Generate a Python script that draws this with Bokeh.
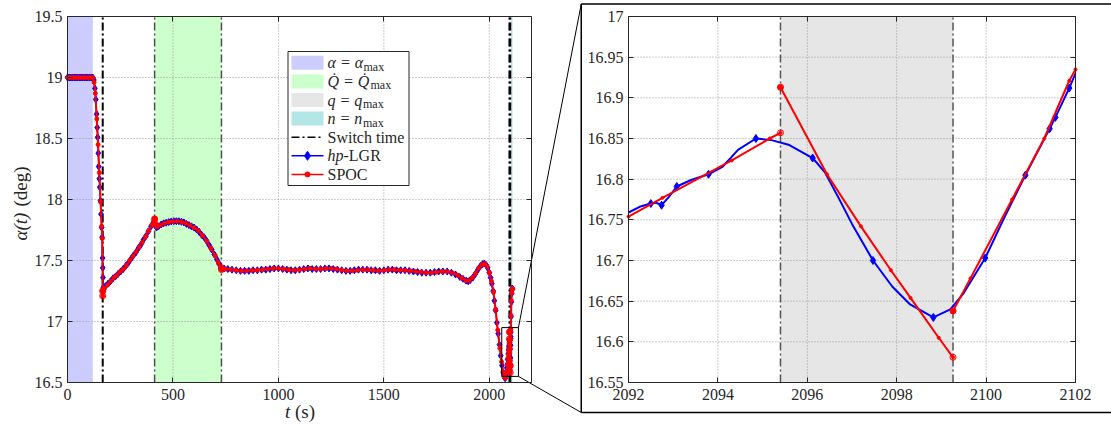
from bokeh.plotting import figure
from bokeh.models import (LinearAxis, Range1d, FixedTicker, CustomJSTickFormatter, Label)
from bokeh.embed import file_html
from bokeh.resources import INLINE

FONT = "Liberation Serif"
AX = "#262626"
GRID = "#9a9a9a"
DASHDOT = "8 3 2 3"

# ---------------- data ----------------
t_lim = [0, 2200]
alpha_lim = [16.5, 19.5]
main_x_ticks = [0, 500, 1000, 1500, 2000]
main_y_ticks = [16.5, 17, 17.5, 18, 18.5, 19, 19.5]
zoom_t_lim = [2092, 2102]
zoom_alpha_lim = [16.55, 17.0]
zoom_x_ticks = [2092, 2094, 2096, 2098, 2100, 2102]
zoom_y_ticks = [16.55, 16.6, 16.65, 16.7, 16.75, 16.8, 16.85, 16.9, 16.95, 17.0]
zoom_box_t = [2059, 2138]
zoom_box_alpha = [16.55, 16.95]

switch_times = [167, 413, 730, 2095.4, 2099.26]
region_alpha_max = [0, 120]
region_qdot_max = [413, 730]
region_q_max = [2095.4, 2099.26]
region_n_max = [2103.5, 2110]

# hp-LGR collocation nodes (markers)
lgr_t = [
    0, 8, 16, 24, 32, 40, 48, 56, 64, 72, 80, 88, 96, 104, 112, 120,
    125, 130, 134, 138, 141, 143, 146, 148, 151, 153, 156, 159, 162, 164, 166, 167, 168, 170,
    180, 192, 204, 216, 228, 240, 252, 264, 276, 288, 300, 312, 324, 336, 348, 360, 372, 384, 396, 404, 410, 413,
    417, 422, 432, 444, 456, 468, 480, 492, 504, 516, 528, 540, 552, 564, 576, 588, 600, 612, 624, 636, 648, 660,
    672, 684, 696, 708, 718, 726, 730,
    742, 760, 780, 800, 820, 840, 860, 880, 900, 920, 940, 960, 980, 1000, 1020, 1040, 1060, 1080, 1100, 1120,
    1140, 1160, 1180, 1200, 1220, 1240, 1260, 1280, 1300, 1320, 1340, 1360, 1380, 1400, 1420, 1440, 1460, 1480,
    1500, 1520, 1540, 1560, 1580, 1600, 1620, 1640, 1660, 1680, 1700, 1720, 1740, 1760, 1780, 1800, 1820,
    1840, 1860, 1875, 1890, 1900, 1910, 1922, 1934, 1946, 1958, 1968, 1976, 1984, 1992, 2000, 2006, 2012, 2018,
    2024, 2030, 2036, 2042, 2048, 2054, 2060, 2066, 2071, 2075, 2079, 2083, 2087, 2090,
    2092.5, 2092.74, 2093.08, 2093.79, 2094.85, 2096.12, 2097.47, 2098.82, 2099.98, 2100.88, 2101.42, 2101.55, 2101.86,
    2103, 2104.5, 2106, 2107.5, 2109, 2110,
]
lgr_alpha = [
    19.0, 19.0, 19.0, 19.0, 19.0, 19.0, 19.0, 19.0, 19.0, 19.0, 19.0, 19.0, 19.0, 19.0, 19.0, 19.0,
    18.98, 18.91, 18.82, 18.70, 18.59, 18.51, 18.38, 18.27, 18.17, 18.10, 17.99, 17.88, 17.77, 17.69, 17.52, 17.44, 17.36, 17.28,
    17.29, 17.31, 17.33, 17.355, 17.37, 17.39, 17.41, 17.43, 17.455, 17.48, 17.51, 17.54, 17.565, 17.60, 17.63, 17.67, 17.70, 17.74, 17.78, 17.80, 17.82, 17.84,
    17.79, 17.77, 17.78, 17.795, 17.805, 17.81, 17.815, 17.82, 17.822, 17.822, 17.822, 17.818, 17.812, 17.80, 17.79, 17.78, 17.77, 17.755, 17.735, 17.71, 17.69, 17.66,
    17.625, 17.59, 17.55, 17.51, 17.475, 17.45, 17.435,
    17.435, 17.43, 17.425, 17.42, 17.415, 17.415, 17.415, 17.42, 17.42, 17.425, 17.425, 17.43, 17.435, 17.435, 17.43, 17.425, 17.42, 17.42, 17.425, 17.43,
    17.435, 17.43, 17.43, 17.43, 17.435, 17.435, 17.43, 17.425, 17.42, 17.415, 17.415, 17.42, 17.425, 17.425, 17.425, 17.42, 17.42, 17.415,
    17.42, 17.425, 17.425, 17.42, 17.42, 17.42, 17.415, 17.41, 17.405, 17.40, 17.40, 17.40, 17.405, 17.41, 17.41, 17.41, 17.40,
    17.385, 17.365, 17.35, 17.335, 17.33, 17.34, 17.36, 17.39, 17.425, 17.455, 17.47, 17.475, 17.465, 17.44, 17.40, 17.36, 17.31, 17.25,
    17.17, 17.09, 16.99, 16.90, 16.81, 16.72, 16.64, 16.58, 16.545, 16.535, 16.56, 16.62, 16.69, 16.735,
    16.770, 16.768, 16.791, 16.806, 16.850, 16.826, 16.700, 16.630, 16.703, 16.805, 16.862, 16.876, 16.912,
    17.04, 17.16, 17.23, 17.265, 17.27, 17.265,
]
# extra points of the smooth hp-LGR interpolant inside the zoom window (line only)
lgr_fine_t = [2092.0, 2092.25, 2092.62, 2092.9, 2093.4, 2094.1, 2094.45, 2095.2, 2095.6, 2096.4, 2096.7,
              2097.0, 2097.9, 2098.3, 2099.2, 2099.5, 2100.4, 2102.0]
lgr_fine_alpha = [16.759, 16.766, 16.771, 16.778, 16.799, 16.815, 16.836, 16.848, 16.842, 16.808, 16.777,
                  16.745, 16.668, 16.646, 16.640, 16.660, 16.752, 16.930]

# SPOC phases (separated at the switch times)
spoc1_t = [0, 12, 24, 36, 48, 60, 72, 84, 96, 108, 120, 126, 132, 139, 145, 151, 157, 162, 165, 167]
spoc1_alpha = [19.0, 19.0, 19.0, 19.0, 19.0, 19.0, 19.0, 19.0, 19.0, 19.0, 19.0, 18.96, 18.87, 18.66, 18.45,
               18.22, 17.98, 17.78, 17.68, 17.21]
spoc2_t = [167, 175, 190, 205, 220, 235, 250, 265, 280, 295, 310, 325, 340, 355, 370, 385, 400, 413]
spoc2_alpha = [17.25, 17.27, 17.30, 17.33, 17.36, 17.38, 17.41, 17.43, 17.46, 17.50, 17.535, 17.57, 17.61,
               17.65, 17.695, 17.745, 17.79, 17.81]
spoc3_t = [413, 418, 424, 440, 460, 480, 500, 520, 540, 560, 580, 600, 620, 640, 660, 680, 700, 715, 730]
spoc3_alpha = [17.84, 17.79, 17.775, 17.79, 17.805, 17.815, 17.82, 17.822, 17.818, 17.805, 17.79, 17.77,
               17.745, 17.705, 17.66, 17.60, 17.54, 17.48, 17.425]
spoc4_t = [730, 750, 775, 800, 825, 850, 875, 900, 925, 950, 975, 1000, 1025, 1050, 1075, 1100, 1125, 1150,
           1175, 1200, 1225, 1250, 1275, 1300, 1325, 1350, 1375, 1400, 1425, 1450, 1475, 1500, 1525, 1550,
           1575, 1600, 1625, 1650, 1675, 1700, 1725, 1750, 1775, 1800, 1825, 1850, 1870, 1890, 1905, 1920,
           1935, 1950, 1965, 1978, 1990, 2000, 2010, 2020, 2030, 2040, 2050, 2058, 2065, 2071, 2076, 2081,
           2085, 2088.5, 2091.2, 2092.0, 2092.76, 2094.31, 2095.16, 2095.4]
spoc4_alpha = [17.44, 17.43, 17.425, 17.42, 17.415, 17.415, 17.42, 17.42, 17.425, 17.43, 17.435, 17.435,
               17.43, 17.425, 17.42, 17.425, 17.43, 17.435, 17.43, 17.43, 17.435, 17.435, 17.43, 17.42,
               17.415, 17.415, 17.42, 17.425, 17.425, 17.42, 17.415, 17.42, 17.425, 17.425, 17.42, 17.42,
               17.415, 17.41, 17.405, 17.40, 17.40, 17.405, 17.41, 17.41, 17.40, 17.38, 17.355, 17.335,
               17.335, 17.36, 17.395, 17.44, 17.465, 17.475, 17.45, 17.40, 17.33, 17.24, 17.10, 16.93,
               16.78, 16.67, 16.59, 16.545, 16.535, 16.58, 16.65, 16.70, 16.73, 16.754, 16.777, 16.823, 16.850, 16.857]
spoc5_t = [2095.4, 2096.44, 2097.2, 2097.87, 2098.31, 2098.94, 2099.26]
spoc5_alpha = [16.913, 16.806, 16.742, 16.688, 16.654, 16.605, 16.581]
spoc6_t = [2099.26, 2099.65, 2100.58, 2101.3, 2101.86, 2102.0, 2103, 2104.5, 2106, 2107.5, 2109, 2110]
spoc6_alpha = [16.638, 16.678, 16.775, 16.85, 16.921, 16.935, 17.05, 17.17, 17.235, 17.265, 17.27, 17.268]

legend_labels = ["α = α", "Q̇ = Q̇", "q = q", "n = n", "Switch time", "hp", "SPOC"]
legend_subs = ["max", "max", "max", "max", "", "", ""]

assert len(lgr_t) == len(lgr_alpha)
assert len(lgr_fine_t) == len(lgr_fine_alpha)
spoc_t = [spoc1_t, spoc2_t, spoc3_t, spoc4_t, spoc5_t, spoc6_t]
spoc_alpha = [spoc1_alpha, spoc2_alpha, spoc3_alpha, spoc4_alpha, spoc5_alpha, spoc6_alpha]
for a, b in zip(spoc_t, spoc_alpha):
    assert len(a) == len(b)

lgr_line = sorted(zip(lgr_t + lgr_fine_t, lgr_alpha + lgr_fine_alpha))
lgr_line_t = [v[0] for v in lgr_line]
lgr_line_alpha = [v[1] for v in lgr_line]
spoc_all_t = [v for s in spoc_t for v in s]
spoc_all_alpha = [v for s in spoc_alpha for v in s]
spoc_end_t = [s[-1] for s in spoc_t[:-1]]
spoc_end_alpha = [s[-1] for s in spoc_alpha[:-1]]
spoc_start_t = [s[0] for s in spoc_t[1:]]
spoc_start_alpha = [s[0] for s in spoc_alpha[1:]]


def in_window(ts, als):
    pts = [(t, a) for t, a in zip(ts, als) if zoom_t_lim[0] <= t <= zoom_t_lim[1]]
    return [q[0] for q in pts], [q[1] for q in pts]


# ---------------- layout (canvas pixels, origin top-left) ----------------
W, H = 1111, 427
L_BOX = (67, 531, 16, 382)      # left, right, top, bottom of the main axes
R_BOX = (628, 1075, 16, 382)    # same for the magnified axes
MAG_FRAME = (580.75, 3.5, 412)  # left, top, bottom of the magnifier frame
LEG_BOX = (287.5, 408.5, 51, 185)
LEG_ROW0, LEG_PITCH = 62.3, 18.6
LEG_GLYPH = (291, 323)
LEG_TEXT_X = 327
LEG_SUB_X = [363, 370, 362.5, 362.5]
LEG_HP_SUFFIX_X = 343


def calib(xlim, ylim, box):
    l, r, top, bot = box
    kx = (xlim[1] - xlim[0]) / (r - l)
    ky = (ylim[1] - ylim[0]) / (bot - top)
    xr = (xlim[0] - l * kx, xlim[1] + (W - r) * kx)
    yr = (ylim[0] - (H - bot) * ky, ylim[1] + top * ky)
    fx = lambda px: xr[0] + px * kx
    fy = lambda py: yr[1] - py * ky
    return xr, yr, fx, fy


lxr, lyr, lpx, lpy = calib(t_lim, alpha_lim, L_BOX)
rxr, ryr, rpx, rpy = calib(zoom_t_lim, zoom_alpha_lim, R_BOX)

p = figure(width=W, height=H, x_range=Range1d(*lxr), y_range=Range1d(*lyr),
           x_axis_location=None, y_axis_location=None,
           output_backend="svg", toolbar_location=None, min_border=0)
p.outline_line_color = None
p.background_fill_color = "white"
p.border_fill_color = "white"
p.extra_x_ranges = {"zt": Range1d(*rxr)}
p.extra_y_ranges = {"za": Range1d(*ryr)}
p.xgrid.visible = False
p.ygrid.visible = False

Z = dict(x_range_name="zt", y_range_name="za")
D = dict(x_range_name="default", y_range_name="default")


def panel_axes(rn, xt, yt, xlim, ylim):
    fmt = CustomJSTickFormatter(code="return Number(tick.toFixed(4)).toString();")
    base = dict(major_tick_in=5, major_tick_out=0, minor_tick_line_color=None, axis_line_color=AX,
                axis_line_width=1, major_tick_line_color=AX, major_label_text_font=FONT,
                major_label_text_font_size="16px", **rn)
    specs = [
        ("below", xt, xlim, ylim[0], True, 6),
        ("left", yt, ylim, xlim[0], True, 5),
        ("above", xt, xlim, ylim[1], False, 0),
        ("right", yt, ylim, xlim[1], False, 0),
    ]
    for side, ticks, bounds, loc, show, standoff in specs:
        ax = LinearAxis(ticker=FixedTicker(ticks=ticks), bounds=tuple(bounds), fixed_location=loc,
                        formatter=fmt, major_label_standoff=standoff,
                        major_label_text_color=AX if show else None, **base)
        p.add_layout(ax, side)


def grid(rn, xt, yt, xlim, ylim):
    gx = [v for v in xt if xlim[0] < v < xlim[1]]
    gy = [v for v in yt if ylim[0] < v < ylim[1]]
    p.segment(x0=gx, y0=ylim[0], x1=gx, y1=ylim[1], line_color=GRID, line_dash="1 2", line_width=1, **rn)
    p.segment(x0=xlim[0], y0=gy, x1=xlim[1], y1=gy, line_color=GRID, line_dash="1 2", line_width=1, **rn)


def shade(region, color, ylim, rn):
    return p.quad(left=[region[0]], right=[region[1]], bottom=[ylim[0]], top=[ylim[1]],
                  fill_color=color, line_color=None, **rn)


def text(x, y, s, size="16px", style="normal", align="left", angle=0, rn=D, **kw):
    p.add_layout(Label(x=x, y=y, text=s, text_font=FONT, text_font_size=size, text_font_style=style,
                       text_align=align, text_baseline="middle", text_color=AX, angle=angle,
                       angle_units="deg", **rn, **kw))


shade_colors = ["#ccccff", "#ccffcc", "#e6e6e6", "#b3e6e6"]

# ---- main panel ----
regions = [region_alpha_max, region_qdot_max, region_q_max, region_n_max]
for reg, col in zip(regions, shade_colors):
    shade(reg, col, alpha_lim, D)
grid(D, main_x_ticks, main_y_ticks, t_lim, alpha_lim)

sw_black = [t for t in switch_times if t not in region_qdot_max]
sw_gray = [t for t in switch_times if t in region_qdot_max]
p.segment(x0=sw_black, y0=alpha_lim[0], x1=sw_black, y1=alpha_lim[1],
          line_color="black", line_width=2, line_dash=DASHDOT)
p.segment(x0=sw_gray, y0=alpha_lim[0], x1=sw_gray, y1=alpha_lim[1],
          line_color="#4d4d4d", line_width=1.5, line_dash=DASHDOT)

p.line(lgr_line_t, lgr_line_alpha, line_color="#0000ff", line_width=1.5)
p.scatter(lgr_t, lgr_alpha, marker="diamond", size=7, fill_color="#0000ff", line_color="#0000ff")
p.multi_line(xs=spoc_t, ys=spoc_alpha, line_color="#ff0000", line_width=2)
p.scatter(spoc_all_t, spoc_all_alpha, marker="circle", size=4, fill_color="#ff0000", line_color="#ff0000")
p.scatter(spoc_end_t, spoc_end_alpha, marker="circle", size=6, fill_color=None, line_color="#ff0000", line_width=1)
p.scatter(spoc_start_t, spoc_start_alpha, marker="circle", size=6, fill_color="#ff0000", line_color="#ff0000")

p.quad(left=[zoom_box_t[0]], right=[zoom_box_t[1]], bottom=[zoom_box_alpha[0]], top=[zoom_box_alpha[1]],
       fill_color=None, line_color="black", line_width=1)

# ---- legend (drawn in the main panel, pixel-placed) ----
lb_l, lb_r, lb_t, lb_b = LEG_BOX
p.quad(left=[lpx(lb_l)], right=[lpx(lb_r)], top=[lpy(lb_t)], bottom=[lpy(lb_b)],
       fill_color="white", line_color=AX, line_width=1)
rows = [LEG_ROW0 + i * LEG_PITCH for i in range(len(legend_labels))]
g0, g1 = lpx(LEG_GLYPH[0]), lpx(LEG_GLYPH[1])
gmid = lpx((LEG_GLYPH[0] + LEG_GLYPH[1]) / 2)
for i, col in enumerate(shade_colors):
    p.quad(left=[g0], right=[g1], top=[lpy(rows[i] - 7)], bottom=[lpy(rows[i] + 7)],
           fill_color=col, line_color=None)
p.segment(x0=[g0], y0=[lpy(rows[4])], x1=[g1], y1=[lpy(rows[4])], line_color="black", line_width=1.5,
          line_dash=DASHDOT)
p.segment(x0=[g0], y0=[lpy(rows[5])], x1=[g1], y1=[lpy(rows[5])], line_color="#0000ff", line_width=1.5)
p.scatter([gmid], [lpy(rows[5])], marker="diamond", size=9, fill_color="#0000ff", line_color="#0000ff")
p.segment(x0=[g0], y0=[lpy(rows[6])], x1=[g1], y1=[lpy(rows[6])], line_color="#ff0000", line_width=1.5)
p.scatter([gmid], [lpy(rows[6])], marker="circle", size=5, fill_color="#ff0000", line_color="#ff0000")
for i, (lab, sub) in enumerate(zip(legend_labels, legend_subs)):
    text(lpx(LEG_TEXT_X), lpy(rows[i]), lab, style="italic" if i in (0, 1, 2, 3, 5) else "normal")
    if sub:
        text(lpx(LEG_SUB_X[i]), lpy(rows[i] + 4), sub, size="12px")
text(lpx(LEG_HP_SUFFIX_X), lpy(rows[5]), "-LGR")

panel_axes(D, main_x_ticks, main_y_ticks, t_lim, alpha_lim)

# ---- magnified panel ----
shade(region_q_max, "#e6e6e6", zoom_alpha_lim, Z)
grid(Z, zoom_x_ticks, zoom_y_ticks, zoom_t_lim, zoom_alpha_lim)
sw_zoom = [t for t in switch_times if zoom_t_lim[0] <= t <= zoom_t_lim[1]]
p.segment(x0=sw_zoom, y0=zoom_alpha_lim[0], x1=sw_zoom, y1=zoom_alpha_lim[1],
          line_color="#555555", line_width=1.5, line_dash=DASHDOT, **Z)
zl_t, zl_a = in_window(lgr_line_t, lgr_line_alpha)
p.line(zl_t, zl_a, line_color="#0000ff", line_width=2, **Z)
zn_t, zn_a = in_window(lgr_t, lgr_alpha)
p.scatter(zn_t, zn_a, marker="diamond", size=8, fill_color="#0000ff", line_color="#0000ff", **Z)
zs = [in_window(a, b) for a, b in zip(spoc_t, spoc_alpha)]
zs = [s for s in zs if len(s[0]) > 1]
p.multi_line(xs=[s[0] for s in zs], ys=[s[1] for s in zs], line_color="#ff0000", line_width=2, **Z)
zd_t, zd_a = in_window(spoc_all_t, spoc_all_alpha)
p.scatter(zd_t, zd_a, marker="circle", size=3, fill_color="#ff0000", line_color="#ff0000", **Z)
ze_t, ze_a = in_window(spoc_end_t, spoc_end_alpha)
p.scatter(ze_t, ze_a, marker="circle", size=6, fill_color=None, line_color="#ff0000", line_width=1, **Z)
zb_t, zb_a = in_window(spoc_start_t, spoc_start_alpha)
p.scatter(zb_t, zb_a, marker="circle", size=6, fill_color="#ff0000", line_color="#ff0000", **Z)
panel_axes(Z, zoom_x_ticks, zoom_y_ticks, zoom_t_lim, zoom_alpha_lim)

# ---- connectors and frame of the magnified view ----
mf_l, mf_t, mf_b = MAG_FRAME
p.segment(x0=[zoom_box_t[1]] * 2, y0=[zoom_box_alpha[1], zoom_box_alpha[0]],
          x1=[lpx(mf_l)] * 2, y1=[lpy(mf_t), lpy(mf_b)], line_color="black", line_width=1)
bl, br = rpx(mf_l), rpx(W + 10)
bt, bb = rpy(mf_t), rpy(mf_b)
p.segment(x0=[bl, bl, bl], y0=[bt, bt, bb], x1=[br, bl, br], y1=[bt, bb, bb],
          line_color="black", line_width=1.5, **Z)

# ---- axis titles ----
text(lpx(284.5), alpha_lim[0], "t", size="19px", style="italic", y_offset=-29)
text(lpx(294.5), alpha_lim[0], "(s)", size="19px", y_offset=-29)
text(t_lim[0], lpy(240), "α(t)", size="19px", style="italic", x_offset=-47, angle=90)
text(t_lim[0], lpy(206), "(deg)", size="19px", x_offset=-47, angle=90)

open("out.html", "w").write(file_html(p, INLINE))
